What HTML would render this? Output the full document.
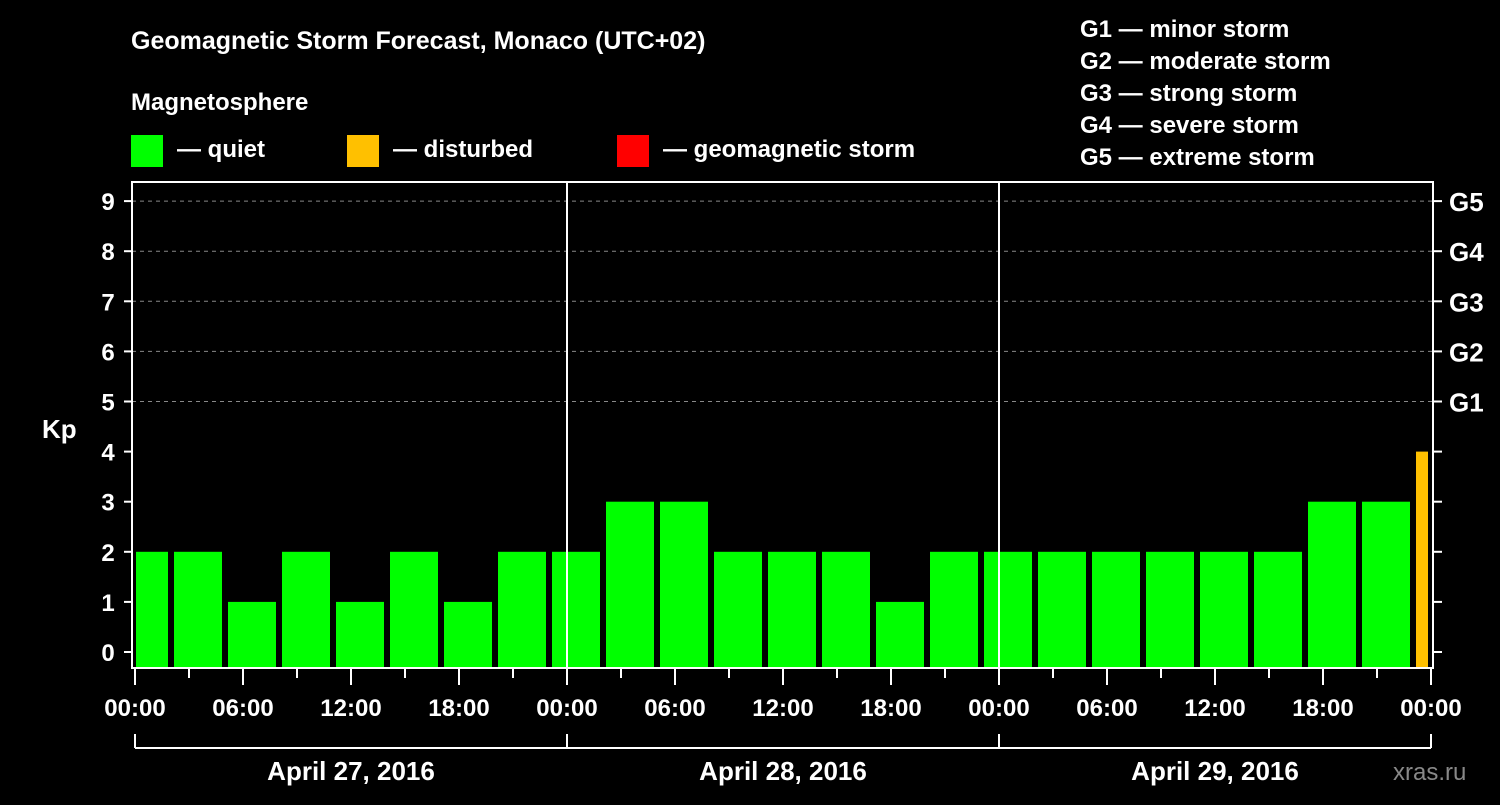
<!DOCTYPE html>
<html><head><meta charset="utf-8"><style>
body{margin:0;background:#000;}
svg text{font-family:"Liberation Sans",sans-serif;font-weight:bold;fill:#fff;}
</style></head><body>
<svg id="chart" width="1500" height="800" viewBox="0 0 1500 800" xmlns="http://www.w3.org/2000/svg">
<rect width="1500" height="800" fill="#000"/>
<text x="131" y="49" font-size="25">Geomagnetic Storm Forecast, Monaco (UTC+02)</text>
<text x="131" y="110" font-size="24">Magnetosphere</text>
<g><rect x="131" y="135" width="32" height="32" fill="#00ff00"/><text x="177" y="157" font-size="24">— quiet</text></g>
<g><rect x="347" y="135" width="32" height="32" fill="#ffc000"/><text x="393" y="157" font-size="24">— disturbed</text></g>
<g><rect x="617" y="135" width="32" height="32" fill="#ff0000"/><text x="663" y="157" font-size="24">— geomagnetic storm</text></g>
<g font-size="24">
<text x="1080" y="37">G1 — minor storm</text>
<text x="1080" y="69">G2 — moderate storm</text>
<text x="1080" y="101">G3 — strong storm</text>
<text x="1080" y="133">G4 — severe storm</text>
<text x="1080" y="165">G5 — extreme storm</text>
</g>
<text x="42" y="438" font-size="26">Kp</text>
<text x="1393" y="780" font-size="24" style="fill:#888;font-weight:normal">xras.ru</text>
<g id="grid"></g><g id="bars"></g><g id="axes"></g>
</svg>
<script>
const kpValues=[2,2,1,2,1,2,1,2,2,3,3,2,2,2,1,2,2,2,2,2,2,2,3,3,4];
const startHours=[-1,2,5,8,11,14,17,20,23,26,29,32,35,38,41,44,47,50,53,56,59,62,65,68,71];
const yTicks=[0,1,2,3,4,5,6,7,8,9];
const gLabels=["","","","","","G1","G2","G3","G4","G5"];
const xTickLabels=["00:00","06:00","12:00","18:00","00:00","06:00","12:00","18:00","00:00","06:00","12:00","18:00","00:00"];
const dayLabels=["April 27, 2016","April 28, 2016","April 29, 2016"];
const NS="http://www.w3.org/2000/svg";
const X0=135,PXH=18,XEND=1431,AXL=132,AXR=1433,BOT=668;
const x=h=>X0+PXH*h;
const y=v=>652-50.1*v;
function mk(parent,tag,attrs){const e=document.createElementNS(NS,tag);for(const k in attrs)e.setAttribute(k,attrs[k]);document.getElementById(parent).appendChild(e);return e;}
function color(v){return v>=5?"#ff0000":(v>=4?"#ffc000":"#00ff00");}
yTicks.forEach((v,i)=>{
 if(v>=5){const l=mk("grid","line",{x1:AXL,x2:AXR,y1:y(v),y2:y(v),stroke:"#888","stroke-dasharray":"4,4","stroke-width":1});
 
 }
 const t=mk("axes","text",{x:108,y:y(v)+9,"font-size":24,"text-anchor":"middle"});t.textContent=v;
 
 
 mk("axes","line",{x1:AXL-8,x2:AXL,y1:y(v),y2:y(v),stroke:"#fff","stroke-width":2});
 mk("axes","line",{x1:AXR,x2:AXR+9,y1:y(v),y2:y(v),stroke:"#fff","stroke-width":2});
 if(gLabels[i]){const g=mk("axes","text",{x:1449,y:y(v)+10,"font-size":26});g.textContent=gLabels[i];
 
 }
});
kpValues.forEach((v,i)=>{
 const h=startHours[i];
 const x1=Math.max(x(h)+3,X0+1),x2=Math.min(x(h+3)-3,XEND-3);
 const r=mk("bars","rect",{x:x1,y:y(v),width:x2-x1,height:BOT-y(v),fill:color(v)});
 
 
});
mk("axes","rect",{x:AXL,y:182,width:AXR-AXL,height:BOT-182,fill:"none",stroke:"#fff","stroke-width":2});
[24,48].forEach(h=>mk("axes","line",{x1:x(h),x2:x(h),y1:182,y2:BOT,stroke:"#fff","stroke-width":2}));
for(let h=0;h<=72;h+=3){mk("axes","line",{x1:x(h),x2:x(h),y1:BOT,y2:h%6==0?685:678,stroke:"#fff","stroke-width":2});}
xTickLabels.forEach((s,i)=>{const t=mk("axes","text",{x:x(i*6),y:716,"font-size":24,"text-anchor":"middle"});t.textContent=s;
 
 });
mk("axes","line",{x1:X0,x2:XEND,y1:748,y2:748,stroke:"#fff","stroke-width":2});
[0,24,48,72].forEach(h=>mk("axes","line",{x1:x(h),x2:x(h),y1:734,y2:748,stroke:"#fff","stroke-width":2}));
dayLabels.forEach((s,i)=>{const t=mk("axes","text",{x:x(i*24+12),y:780,"font-size":26,"text-anchor":"middle"});t.textContent=s;
 
 });
</script>
</body></html>
